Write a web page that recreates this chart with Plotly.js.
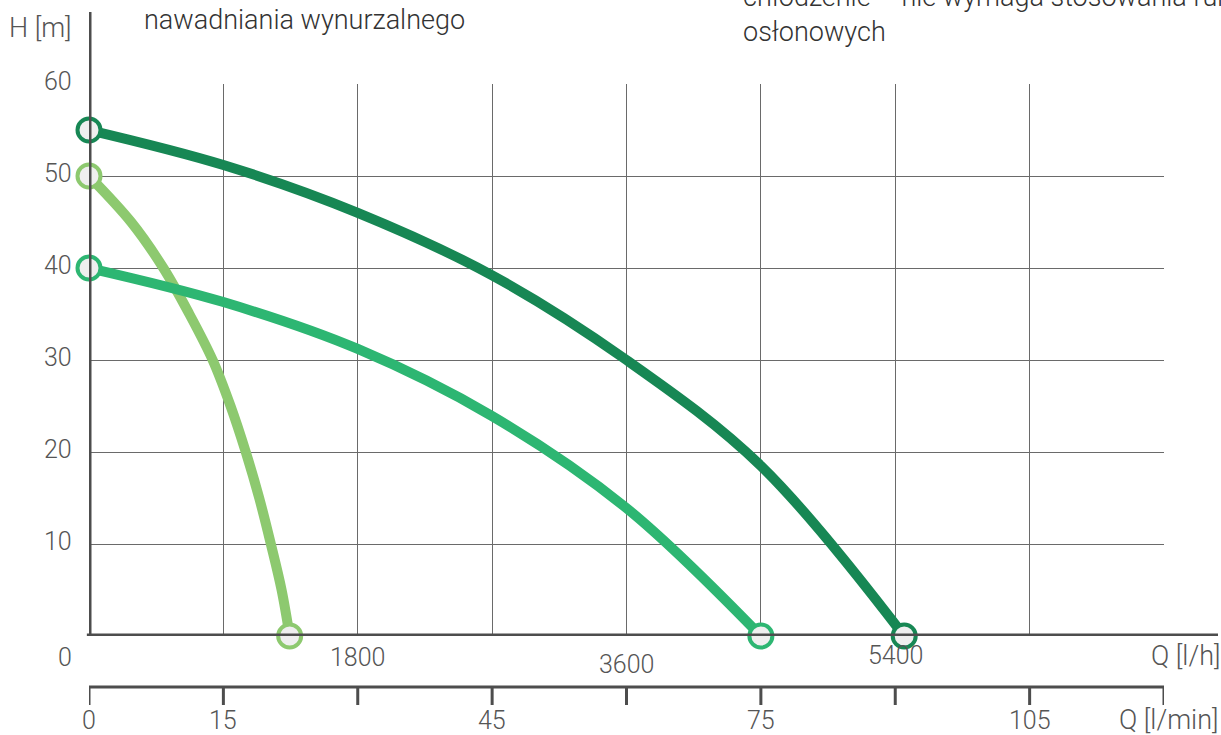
<!DOCTYPE html>
<html>
<head>
<meta charset="utf-8">
<script src="https://cdn.plot.ly/plotly-3.0.1.min.js"></script>
<style>html,body{margin:0;padding:0;background:#fff;}#chart{width:1221px;height:735px;}</style>
</head>
<body>
<div id="chart"></div>
<script>
// ---- data ----
const qMinTicks = [0, 15, 30, 45, 60, 75, 90, 105, 120];
const qMinLabels = ['0', '15', '', '45', '', '75', '', '105', ''];
const qHourPos = [0, 30, 60, 90];           // positions in l/min
const qHourLabels = ['0', '1800', '3600', '5400'];
const hTicks = [10, 20, 30, 40, 50, 60];

const darkQ = [0, 15, 30, 45, 60, 75, 91];
const darkH = [55, 51.2, 46.0, 39.2, 30.0, 18.5, 0];
const midQ = [0, 15, 30, 45, 60, 75];
const midH = [40, 36.3, 31.2, 23.9, 13.9, 0];
const lightQ = [0, 4.7, 8.3, 11.2, 13.8, 15.8, 17.5, 19.0, 20.3, 21.5, 22.4];
const lightH = [50, 45, 40, 35, 30, 25, 20, 15, 10, 5, 0];

const topText1 = 'nawadniania wynurzalnego';
const topText2a = 'chłodzenie – nie wymaga stosowania rur';
const topText2b = 'osłonowych';

// ---- styles ----
const C_DARK = '#178754', C_MID = '#2db672', C_LIGHT = '#8dc96f';
const AX = '#4d4d4d', GRID = '#6a6a6a', TXT = '#555555';
const FONT = 'Roboto, "Open Sans", sans-serif';
const T = 636, PH = 552, L = 89, PW = 1075;
const py = p => (T - p) / PH;   // pixel y -> paper
const px = p => (p - L) / PW;   // pixel x -> paper
const hourShift = [-24, 0, 0, 0];
const hourY = [657, 657, 664, 655];

function curve(q, h, c) {
  return {x: q, y: h, type: 'scatter', mode: 'lines', line: {color: c, width: 10, shape: 'spline', smoothing: 1.0}, hoverinfo: 'skip', cliponaxis: false};
}
function ends(q, h, c) {
  return {x: [q[0], q[q.length - 1]], y: [h[0], h[h.length - 1]], type: 'scatter', mode: 'markers',
    marker: {size: 23, color: '#efefef', line: {color: c, width: 4}}, hoverinfo: 'skip', cliponaxis: false};
}
const traces = [
  curve(lightQ, lightH, C_LIGHT), curve(midQ, midH, C_MID), curve(darkQ, darkH, C_DARK),
  ends(lightQ, lightH, C_LIGHT), ends(midQ, midH, C_MID), ends(darkQ, darkH, C_DARK)
];

const ann = [];
const tf = (s, c) => ({family: FONT, size: s, color: c || TXT, weight: 300});
hTicks.forEach(v => ann.push({x: 0, xref: 'paper', y: v, yref: 'y', text: String(v), showarrow: false,
  xanchor: 'right', yanchor: 'middle', xshift: -15, yshift: 3, font: tf(25)}));
qHourPos.forEach((v, i) => ann.push({x: v, xref: 'x', y: py(hourY[i]), yref: 'paper', text: qHourLabels[i], showarrow: false,
  xanchor: 'center', yanchor: 'middle', xshift: hourShift[i], font: tf(25)}));
qMinTicks.forEach((v, i) => { if (qMinLabels[i]) ann.push({x: v, xref: 'x', y: py(720), yref: 'paper', text: qMinLabels[i], showarrow: false,
  xanchor: 'center', yanchor: 'middle', font: tf(25)}); });
ann.push({x: px(40), xref: 'paper', y: py(28), yref: 'paper', text: 'H [m]', showarrow: false, xanchor: 'center', yanchor: 'middle', font: tf(27)});
ann.push({x: px(1222), xref: 'paper', y: py(656), yref: 'paper', text: 'Q [l/h]', showarrow: false, xanchor: 'right', yanchor: 'middle', font: tf(27)});
ann.push({x: px(1220), xref: 'paper', y: py(720), yref: 'paper', text: 'Q [l/min]', showarrow: false, xanchor: 'right', yanchor: 'middle', font: tf(27)});
ann.push({x: px(142), xref: 'paper', y: py(20), yref: 'paper', text: topText1, showarrow: false, xanchor: 'left', yanchor: 'middle', font: tf(27, '#333')});
ann.push({x: px(741), xref: 'paper', y: py(-3), yref: 'paper', text: topText2a, showarrow: false, xanchor: 'left', yanchor: 'middle', font: tf(27, '#333')});
ann.push({x: px(741), xref: 'paper', y: py(32), yref: 'paper', text: topText2b, showarrow: false, xanchor: 'left', yanchor: 'middle', font: tf(27, '#333')});

const shapes = [
  {type: 'line', xref: 'x', yref: 'paper', x0: 0, x1: 0, y0: 0, y1: py(12), line: {color: AX, width: 5}},
  {type: 'line', xref: 'paper', yref: 'y', x0: -0.002, x1: px(1218), y0: 0, y1: 0, line: {color: AX, width: 5}},
  {type: 'line', xref: 'x', yref: 'paper', x0: qMinTicks[0], x1: qMinTicks[qMinTicks.length - 1], y0: py(687), y1: py(687), line: {color: AX, width: 3}}
];
qMinTicks.forEach(v => shapes.push({type: 'line', xref: 'x', yref: 'paper', x0: v, x1: v, y0: py(687), y1: py(705), line: {color: AX, width: 3}}));

const layout = {
  width: 1221, height: 735, margin: {l: 89, r: 57, t: 84, b: 99},
  paper_bgcolor: '#fff', plot_bgcolor: '#fff', showlegend: false,
  xaxis: {range: [0, 120], tickvals: qMinTicks, showticklabels: false, ticks: '', showgrid: true, gridcolor: GRID, gridwidth: 1, zeroline: false, showline: false, fixedrange: true},
  yaxis: {range: [0, 60], tickvals: [0].concat(hTicks), showticklabels: false, ticks: '', showgrid: true, gridcolor: GRID, gridwidth: 1, zeroline: false, showline: false, fixedrange: true},
  annotations: ann, shapes: shapes
};
Plotly.newPlot('chart', traces, layout, {staticPlot: true, displayModeBar: false});
</script>
</body>
</html>
